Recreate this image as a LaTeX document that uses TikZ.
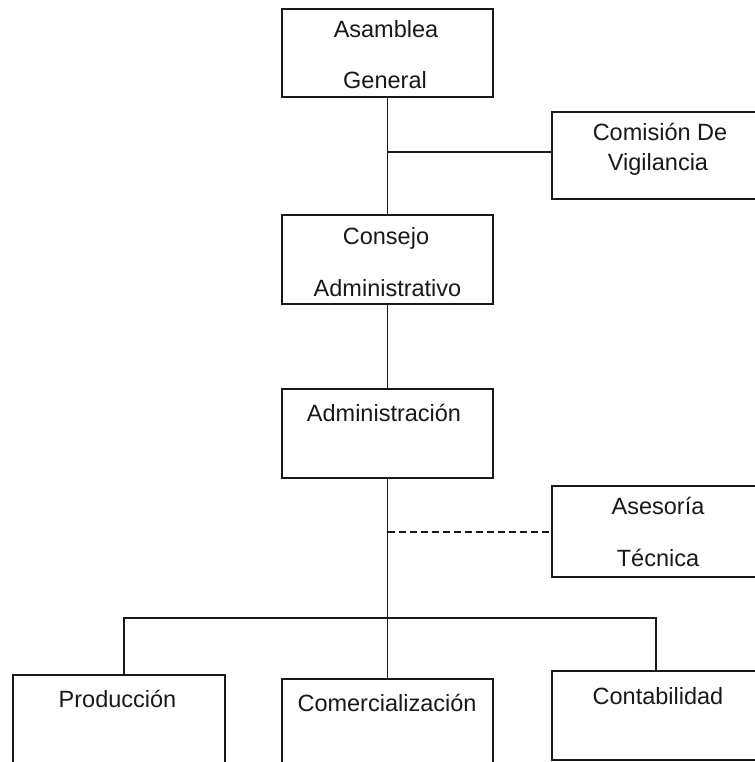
\documentclass[tikz,border=0pt]{standalone}
\usepackage{fontspec}
\setmainfont{Liberation Sans}
\begin{document}
\begin{tikzpicture}[x=1pt,y=-1pt,
  orgbox/.style={draw=black!90, line width=1.8pt, minimum width=211pt, inner sep=0pt, fill=white},
  txt/.style={font=\fontsize{23.5}{28}\selectfont, text=black!90, text height=16.8pt, text depth=0pt, inner sep=0pt, anchor=center},
  link/.style={draw=black!90, line width=1.8pt}]
\useasboundingbox (0,0) rectangle (754,762);
\fill[white] (0,0) rectangle (754,762);
\coordinate (j1) at (387.5,152);
\coordinate (j2) at (387.5,532);
\coordinate (bar) at (387.5,618);
% boxes
\node[orgbox, minimum height=88pt] (asam) at (387.5,53) {};
\node[orgbox, minimum height=87pt] (comi) at (657.5,155.5) {};
\node[orgbox, minimum height=89pt] (cons) at (387.5,259.5) {};
\node[orgbox, minimum height=89pt] (admi) at (387.5,433.5) {};
\node[orgbox, minimum height=91pt] (ases) at (657.5,531.5) {};
\node[orgbox, minimum width=212pt, minimum height=125pt] (prod) at (119,737.5) {};
\node[orgbox, minimum height=121pt] (come) at (387.5,739.5) {};
\node[orgbox, minimum height=89pt] (cont) at (657.5,715.5) {};
% lines
\draw[link] (asam.south) -- (cons.north);
\draw[link] (j1) -- (j1 -| comi.west);
\draw[link] (cons.south) -- (admi.north);
\draw[link] (admi.south) -- (come.north);
\draw[link, dash pattern=on 7pt off 4pt] (j2) -- (j2 -| ases.west);
\draw[link] ([xshift=5pt]prod.north) |- (bar) -| ([xshift=-1.5pt]cont.north);
% texts
\node[txt] (t1) at (386,29) {Asamblea};
\node[txt] (t2) at (385,80) {General};
\node[txt] (t3) at (660,132.5) {Comisión De};
\node[txt] (t4) at (658,162) {Vigilancia};
\node[txt] (t5) at (386,236) {Consejo};
\node[txt] (t6) at (387.5,288) {Administrativo};
\node[txt] (t7) at (384,413) {Administración};
\node[txt] (t8) at (658,506) {Asesoría};
\node[txt] (t9) at (658,558) {Técnica};
\node[txt] (t10) at (117.5,699) {Producción};
\node[txt] (t11) at (387,703) {Comercialización};
\node[txt] (t12) at (658,696) {Contabilidad};
\end{tikzpicture}
\end{document}
